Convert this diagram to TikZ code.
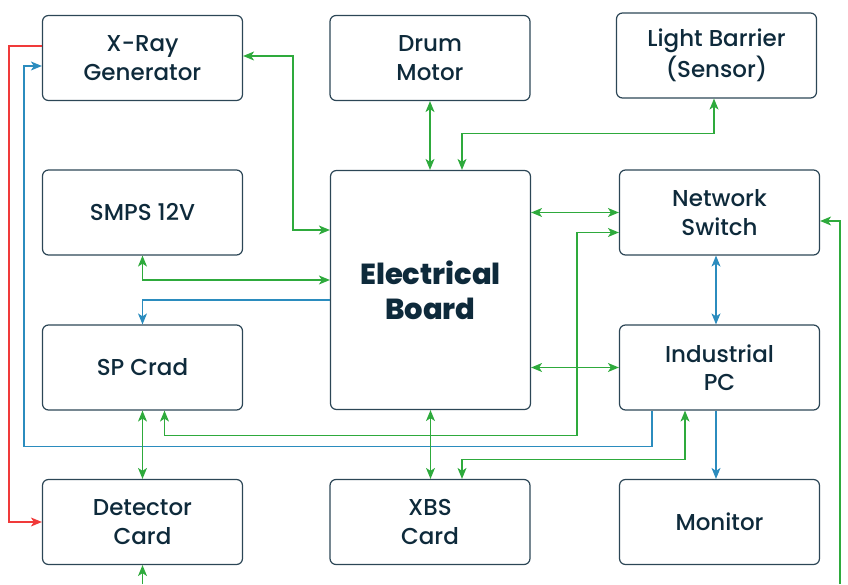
\documentclass[tikz,border=0pt]{standalone}
\usepackage{fontspec}
\setmainfont{Poppins}[UprightFont=* Medium, BoldFont=* ExtraBold]
\usetikzlibrary{arrows.meta}

\definecolor{boxline}{HTML}{2C4656}
\definecolor{ink}{HTML}{0E2A3B}
\definecolor{wiregreen}{HTML}{2EAA3C}
\definecolor{wireblue}{HTML}{2B8CBE}
\definecolor{wirered}{HTML}{F03A3A}

\begin{document}
\begin{tikzpicture}[
    x=1pt, y=1pt,
    block/.style={draw=boxline, line width=1.2pt, rounded corners=6pt,
        minimum width=200pt, minimum height=85pt, align=center,
        text=ink, font=\fontsize{23}{28.5}\selectfont},
    tip/.style={-{Stealth[length=11pt,width=9pt,inset=3pt]}},
    both/.style={{Stealth[length=11pt,width=9pt,inset=3pt]}-{Stealth[length=11pt,width=9pt,inset=3pt]}},
    green/.style={draw=wiregreen, line width=1.3pt},
    blue/.style={draw=wireblue, line width=1.3pt},
    red/.style={draw=wirered, line width=1.3pt}
]

\useasboundingbox (0,0) rectangle (848,584);

% Top row
\node[block] (xray) at (142.5,526) {X-Ray\\Generator};
\node[block] (drum) at (430,526) {Drum\\Motor};
\node[block, font=\fontsize{23}{31}\selectfont] (light) at (716.5,528.5) {Light Barrier\\(Sensor)};

% Middle
\node[block] (smps) at (142.5,371.5) {SMPS 12V};
\node[block, minimum height=239pt, font=\fontsize{29}{35}\selectfont\bfseries] (board) at (430.5,294) {Electrical\\Board};
\node[block] (switch) at (719.5,371.5) {Network\\Switch};
\node[block] (spcard) at (142.5,216.5) {SP Crad};
\node[block] (ipc) at (719.5,216.5) {Industrial\\PC};

% Bottom row
\node[block] (detector) at (142.5,62) {Detector\\Card};
\node[block] (xbs) at (430,62) {XBS\\Card};
\node[block] (monitor) at (719.5,62) {Monitor};

% Free ends at the lower edge
\coordinate (detin) at (142.5,0);
\coordinate (switchin) at (840,0);

% Red / blue lines round the left side
\draw[red, tip] ([yshift=12pt]xray.west) -- ++(-33pt,0) |- (detector.west);
\draw[blue, tip] ([xshift=-67.5pt]ipc.south) -- ++(0,-36pt)
    -| ([xshift=-18pt,yshift=-8pt]xray.west) -- ([yshift=-8pt]xray.west);

% Electrical Board links
\draw[green, both] ([yshift=2pt]xray.east) -- ++(50pt,0) |- ([yshift=60pt]board.west);
\draw[green, both] (drum.south) -- (drum.south |- board.north);
\draw[green, both] ([xshift=-2.5pt]light.south) |- ++(0,-35pt)
    -| ([xshift=31.5pt]board.north);
\draw[green, both] (smps.south) |- ([yshift=10pt]board.west);
\draw[blue, tip] ([yshift=-10pt]board.west) -| (spcard.north);
\draw[green, both] (switch.west -| board.east) -- (switch.west);
\draw[green, both] (ipc.west -| board.east) -- (ipc.west);
\draw[green, both] (board.south) -- (board.south |- xbs.north);

% SP Crad to Network Switch
\draw[green, both] ([xshift=22pt]spcard.south) -- ++(0,-25pt)
    -| ([xshift=-42pt,yshift=-20pt]switch.west) -- ([yshift=-20pt]switch.west);
\draw[green, both] (spcard.south) -- (detector.north);

% Industrial PC
\draw[blue, both] ([xshift=-3.5pt]switch.south) -- ([xshift=-3.5pt]ipc.north);
\draw[green, both] ([xshift=-34.5pt]ipc.south) -- ++(0,-49pt)
    -| ([xshift=32pt]xbs.north);
\draw[blue, tip] ([xshift=-3.5pt]ipc.south) -- ([xshift=-3.5pt]monitor.north);

% Lines from below
\draw[green, tip] (switchin) |- ([yshift=-8.5pt]switch.east);
\draw[green, tip] (detin) -- (detector.south);

\end{tikzpicture}
\end{document}
